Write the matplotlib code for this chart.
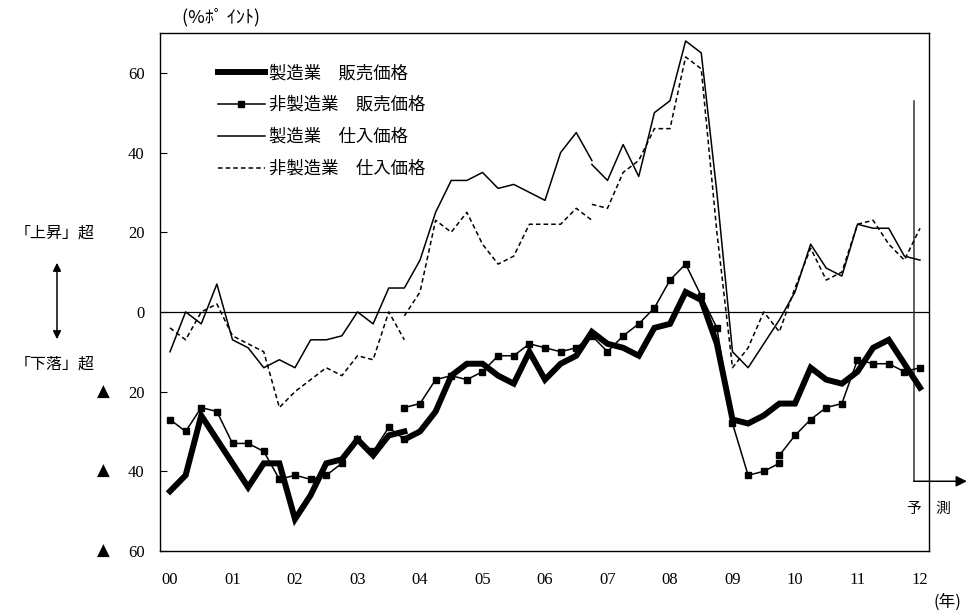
import numpy as np
import matplotlib
matplotlib.use("Agg")
import matplotlib.pyplot as plt
import matplotlib.transforms as mtransforms
from matplotlib.lines import Line2D

plt.rcParams['font.family'] = ['Noto Sans CJK JP', 'DejaVu Sans']

# 四半期データ（00年1Q = 0）
# 製造業 販売価格（旧系列 00/1Q-03/4Q、新系列 03/4Q-12/1Q）
mfg_sales_old = [-45, -41, -26, -32, -38, -44, -38, -38, -52, -46, -38, -37, -32, -36, -31, -30]
mfg_sales_new = [-32, -30, -25, -16, -13, -13, -16, -18, -10, -17, -13, -11, -5, -8, -9, -11,
                 -4, -3, 5, 3, -8, -27, -28, -26, -23, -23, -14, -17, -18, -15, -9, -7, -13, -19]

# 非製造業 販売価格
nonmfg_sales_old = [-27, -30, -24, -25, -33, -33, -35, -42, -41, -42, -41, -38, -32, -35, -29, -32]
nonmfg_sales_mid = [-24, -23, -17, -16, -17, -15, -11, -11, -8, -9, -10, -9, -6, -10, -6, -3,
                    1, 8, 12, 4, -4, -28, -41, -40, -38]
nonmfg_sales_new = [-36, -31, -27, -24, -23, -12, -13, -13, -15, -14]

# 製造業 仕入価格
mfg_purch_old = [-10, 0, -3, 7, -7, -9, -14, -12, -14, -7, -7, -6, 0, -3, 6, 6,
                 13, 25, 33, 33, 35, 31, 32, 30, 28, 40, 45, 38]
mfg_purch_new = [37, 33, 42, 34, 50, 53, 68, 65, 30, -10, -14, -8, -2, 5, 17, 11,
                 9, 22, 21, 21, 14, 13]

# 非製造業 仕入価格
nonmfg_purch_old = [-4, -7, 0, 2, -6, -8, -10, -24, -20, -17, -14, -16, -11, -12, 0, -7]
nonmfg_purch_mid = [-1, 5, 23, 20, 25, 17, 12, 14, 22, 22, 22, 26, 23]
nonmfg_purch_new = [27, 26, 35, 38, 46, 46, 64, 61, 20, -14, -9, 0, -5, 6, 16, 8,
                    10, 22, 23, 17, 13, 21]

year_labels = ['00', '01', '02', '03', '04', '05', '06', '07', '08', '09', '10', '11', '12']
yticks = [60, 40, 20, 0, -20, -40, -60]
ytick_labels = ['60', '40', '20', '0', '20', '40', '60']


def qx(start, n):
    # start: 開始四半期番号
    return (start + np.arange(n)) / 4.0


fig = plt.figure(figsize=(9.78, 6.16), dpi=100)
ax = fig.add_axes([160 / 978, 1 - 551 / 616, 769 / 978, 518 / 616])

thick = dict(color='black', lw=4.3, solid_joinstyle='miter', zorder=4)
sq = dict(color='black', lw=1.1, marker='s', ms=5, zorder=5)
thin = dict(color='black', lw=1.1, zorder=3)
dash = dict(color='black', lw=1.1, ls=(0, (3, 2)), zorder=3)

ax.plot(qx(0, len(mfg_sales_old)), mfg_sales_old, **thick)
ax.plot(qx(15, len(mfg_sales_new)), mfg_sales_new, **thick)

ax.plot(qx(0, len(nonmfg_sales_old)), nonmfg_sales_old, **sq)
ax.plot(qx(15, len(nonmfg_sales_mid)), nonmfg_sales_mid, **sq)
ax.plot(qx(39, len(nonmfg_sales_new)), nonmfg_sales_new, **sq)

ax.plot(qx(0, len(mfg_purch_old)), mfg_purch_old, **thin)
ax.plot(qx(27, len(mfg_purch_new)), mfg_purch_new, **thin)

ax.plot(qx(0, len(nonmfg_purch_old)), nonmfg_purch_old, **dash)
ax.plot(qx(15, len(nonmfg_purch_mid)), nonmfg_purch_mid, **dash)
ax.plot(qx(27, len(nonmfg_purch_new)), nonmfg_purch_new, **dash)

ax.axhline(0, color='black', lw=0.9, zorder=2)

# 予測
ax.plot([11.9, 11.9], [53, -42.5], color='#333333', lw=1.1, clip_on=False)
ax.annotate('', xy=(12.75, -42.5), xytext=(11.9, -42.5),
            arrowprops=dict(arrowstyle='-|>', color='black', lw=1.1, mutation_scale=16,
                            shrinkA=0, shrinkB=0),
            annotation_clip=False)
ax.text(12.14, -49.5, '予　測', fontsize=10.5, ha='center', va='center')

ax.set_xlim(-0.16, 12.144)
ax.set_ylim(-60, 70)
ax.set_xticks(range(len(year_labels)))
ax.set_xticklabels(year_labels, family=['Liberation Serif', 'DejaVu Serif'], fontsize=12)
ax.set_yticks(yticks)
ax.set_yticklabels(ytick_labels, family=['Liberation Serif', 'DejaVu Serif'], fontsize=12)
ax.tick_params(axis='y', direction='in', length=5, width=0.8, pad=11)
ax.tick_params(axis='x', length=0, pad=15)
for s in ax.spines.values():
    s.set_linewidth(1.0)

# マイナス記号（▲）
trans = mtransforms.blended_transform_factory(ax.transAxes, ax.transData)
for v in yticks:
    if v < 0:
        ax.text(-0.0735, v, '▲', transform=trans, family='DejaVu Sans', fontsize=12,
                ha='center', va='center', clip_on=False)

handles = [
    Line2D([], [], color='black', lw=4.3),
    Line2D([], [], color='black', lw=1.1, marker='s', ms=5),
    Line2D([], [], color='black', lw=1.1),
    Line2D([], [], color='black', lw=1.1, ls=(0, (3, 2))),
]
labels = ['製造業　販売価格', '非製造業　販売価格', '製造業　仕入価格', '非製造業　仕入価格']
ax.legend(handles, labels, loc='upper left', bbox_to_anchor=(0.075, 0.94), frameon=False,
          fontsize=12.5, handlelength=2.7, handletextpad=0.25, labelspacing=0.8,
          borderaxespad=0, borderpad=0, numpoints=1)

fig.text(182 / 978, 1 - 17 / 616, '(%ﾎﾟ ｲﾝﾄ)', fontsize=13, va='center')
fig.text(947 / 978, 1 - 602 / 616, '(年)', fontsize=12, ha='center', va='center')
fig.text(55 / 978, 1 - 233 / 616, '「上昇」超', fontsize=11.5, ha='center', va='center')
fig.text(55 / 978, 1 - 364 / 616, '「下落」超', fontsize=11.5, ha='center', va='center')
fig.add_artist(matplotlib.patches.FancyArrowPatch(
    (57 / 978, 1 - 260 / 616), (57 / 978, 1 - 342 / 616), transform=fig.transFigure,
    arrowstyle='<|-|>', mutation_scale=12, color='black', lw=1.1))

fig.savefig('out.png', dpi=100)
